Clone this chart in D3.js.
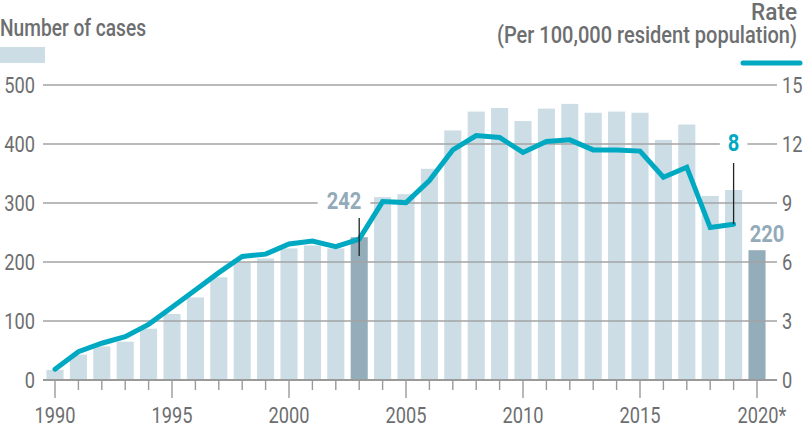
<!DOCTYPE html>
<html>
<head>
<meta charset="utf-8">
<script src="https://cdn.jsdelivr.net/npm/d3@7"></script>
<style>
  html, body { margin: 0; padding: 0; background: #fff; }
  svg { display: block; font-family: "Roboto", "Liberation Sans", sans-serif; }
</style>
</head>
<body>
<div id="chart"></div>
<script>
// ---- data ----
const years = [1990, 1991, 1992, 1993, 1994, 1995, 1996, 1997, 1998, 1999,
  2000, 2001, 2002, 2003, 2004, 2005, 2006, 2007, 2008, 2009,
  2010, 2011, 2012, 2013, 2014, 2015, 2016, 2017, 2018, 2019, 2020];

const cases = [17, 43, 57, 65, 87, 112, 140, 174, 199, 206,
  223, 228, 223, 242, 310, 315, 358, 423, 455, 461,
  439, 460, 468, 453, 455, 453, 407, 433, 312, 322, 220];

// rate per 100,000 residents; no 2020 value
const rateYears = years.slice(0, 30);
const rates = [0.55, 1.44, 1.87, 2.2, 2.83, 3.7, 4.58, 5.46, 6.28, 6.4,
  6.92, 7.07, 6.78, 7.16, 9.07, 9.02, 10.14, 11.7, 12.43, 12.33,
  11.57, 12.13, 12.21, 11.7, 11.7, 11.64, 10.31, 10.82, 7.75, 7.92];

const highlightYears = [2003, 2020];
const caseTicks = [0, 100, 200, 300, 400, 500];
const rateTicks = [0, 3, 6, 9, 12, 15];
const labelYears = [1990, 1995, 2000, 2005, 2010, 2015, 2020];

const COLOR = {
  bar: "#ccdde5",
  barHi: "#93adbb",
  label: "#93abb9",
  line: "#00a9c2",
  grid: "#a3a3a3",
  axis: "#9a9a9a",
  text: "#6d6e70",
};

const width = 803, height = 426;
const FONT = 22.5;
const NARROW = 0.81; // the reference uses a condensed face; squeeze Roboto to match

// squeeze each text horizontally to `k` of its natural width (or to a fixed width)
function squeeze(sel, k = NARROW, fixed) {
  sel.each(function () {
    const w = fixed ?? this.getComputedTextLength() * k;
    this.setAttribute("textLength", w);
    this.setAttribute("lengthAdjust", "spacingAndGlyphs");
  });
  return sel;
}

const svg = d3.select("#chart").append("svg")
  .attr("width", width).attr("height", height)
  .attr("viewBox", `0 0 ${width} ${height}`);

// ---- scales ----
const x = d3.scaleBand().domain(years)
  .range([43.3, 768.7]).paddingInner(0.27).paddingOuter(0.135);
const y = d3.scaleLinear().domain([0, 500]).range([380, 85]);
const yRate = d3.scaleLinear().domain([0, 15]).range([380, 85]);
const cx = (yr) => x(yr) + x.bandwidth() / 2;

const gridL = 43, gridR = 777;

// ---- bars ----
svg.append("g").selectAll("rect")
  .data(years.map((yr, i) => ({ yr, v: cases[i] })))
  .join("rect")
  .attr("x", (d) => x(d.yr))
  .attr("width", x.bandwidth())
  .attr("y", (d) => y(d.v))
  .attr("height", (d) => y(0) - y(d.v))
  .attr("fill", (d) => highlightYears.includes(d.yr) ? COLOR.barHi : COLOR.bar);

// ---- gridlines (over the bars) ----
svg.append("g").selectAll("line")
  .data(caseTicks.slice(1))
  .join("line")
  .attr("x1", gridL).attr("x2", gridR)
  .attr("y1", (d) => y(d)).attr("y2", (d) => y(d))
  .attr("stroke", COLOR.grid).attr("stroke-width", 1.4);

// ---- left and right tick labels ----
svg.append("g").selectAll("text")
  .data(caseTicks)
  .join("text")
  .attr("x", 35).attr("y", (d) => y(d))
  .attr("dy", "0.36em")
  .attr("text-anchor", "end")
  .attr("font-size", FONT).attr("fill", COLOR.text)
  .text((d) => d)
  .call(squeeze);

svg.append("g").selectAll("text")
  .data(rateTicks)
  .join("text")
  .attr("x", 782).attr("y", (d) => yRate(d))
  .attr("dy", "0.36em")
  .attr("font-size", FONT).attr("fill", COLOR.text)
  .text((d) => d)
  .call(squeeze);

// ---- x axis: baseline, ticks, year labels ----
svg.append("line")
  .attr("x1", gridL).attr("x2", gridR)
  .attr("y1", y(0)).attr("y2", y(0))
  .attr("stroke", COLOR.axis).attr("stroke-width", 2.2);

svg.append("g").selectAll("line")
  .data(years)
  .join("line")
  .attr("x1", cx).attr("x2", cx)
  .attr("y1", y(0))
  .attr("y2", (d) => y(0) + (labelYears.includes(d) ? 18 : 10))
  .attr("stroke", COLOR.axis).attr("stroke-width", 1.4);

svg.append("g").selectAll("text")
  .data(labelYears)
  .join("text")
  .attr("x", (d) => cx(d) + (d === 2020 ? 5 : 0))
  .attr("y", 423)
  .attr("text-anchor", "middle")
  .attr("font-size", FONT).attr("fill", COLOR.text)
  .text((d) => d === 2020 ? "2020*" : d)
  .call(squeeze);

// ---- rate line ----
const line = d3.line()
  .x((d) => cx(d.yr))
  .y((d) => yRate(d.v));

svg.append("path")
  .datum(rateYears.map((yr, i) => ({ yr, v: rates[i] })))
  .attr("d", line)
  .attr("fill", "none")
  .attr("stroke", COLOR.line)
  .attr("stroke-width", 5)
  .attr("stroke-linejoin", "miter")
  .attr("stroke-linecap", "round");

// ---- annotations ----
function callout(text, tx, ty, color, padX) {
  const t = svg.append("text")
    .attr("x", tx).attr("y", ty)
    .attr("text-anchor", "middle")
    .attr("font-size", 24).attr("font-weight", 700)
    .attr("fill", color)
    .text(text)
    .call(squeeze, 0.84);
  const b = t.node().getBBox();
  svg.insert("rect", () => t.node())
    .attr("x", b.x - padX).attr("y", b.y)
    .attr("width", b.width + 2 * padX).attr("height", b.height)
    .attr("fill", "#fff");
}

// 2003 cases
callout(cases[years.indexOf(2003)], 344, 209, COLOR.label, 9);
svg.append("line")
  .attr("x1", cx(2003)).attr("x2", cx(2003))
  .attr("y1", 218).attr("y2", 256)
  .attr("stroke", "#222").attr("stroke-width", 1.3);

// 2019 rate
const r2019 = rates[rateYears.indexOf(2019)];
callout(Math.round(r2019), cx(2019), 151, COLOR.line, 8);
svg.append("line")
  .attr("x1", cx(2019)).attr("x2", cx(2019))
  .attr("y1", 163).attr("y2", yRate(r2019))
  .attr("stroke", "#222").attr("stroke-width", 1.3);

// 2020 cases
svg.append("text")
  .attr("x", cx(2020) + 10).attr("y", 242)
  .attr("text-anchor", "middle")
  .attr("font-size", 24).attr("font-weight", 700)
  .attr("fill", COLOR.label)
  .text(cases[years.indexOf(2020)])
  .call(squeeze, 0.84);

// ---- legends / titles ----
svg.append("text")
  .attr("x", 0).attr("y", 36)
  .attr("font-size", 23).attr("font-weight", 500)
  .attr("fill", COLOR.text)
  .text("Number of cases")
  .call(squeeze, NARROW, 146);
svg.append("rect")
  .attr("x", 0).attr("y", 47).attr("width", 45).attr("height", 16)
  .attr("fill", COLOR.bar);

svg.append("text")
  .attr("x", 797).attr("y", 20)
  .attr("text-anchor", "end")
  .attr("font-size", 23).attr("font-weight", 500)
  .attr("fill", COLOR.text)
  .text("Rate")
  .call(squeeze, NARROW, 46);
svg.append("text")
  .attr("x", 797).attr("y", 43)
  .attr("text-anchor", "end")
  .attr("font-size", 23).attr("font-weight", 500)
  .attr("fill", COLOR.text)
  .text("(Per 100,000 resident population)")
  .call(squeeze, NARROW, 300);
svg.append("line")
  .attr("x1", 743).attr("x2", 800)
  .attr("y1", 63).attr("y2", 63)
  .attr("stroke", COLOR.line).attr("stroke-width", 5)
  .attr("stroke-linecap", "round");
</script>
</body>
</html>
